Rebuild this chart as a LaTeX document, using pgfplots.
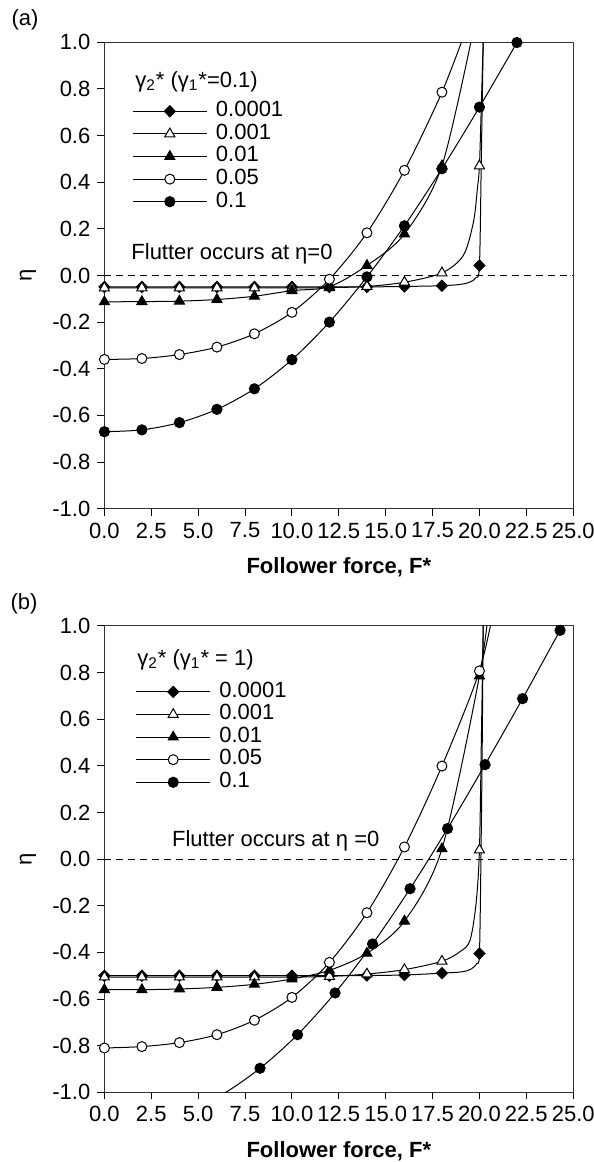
\documentclass[border=0pt]{standalone}
\usepackage{fontspec}
\setmainfont{Liberation Sans}
\usepackage{pgfplots}
\pgfplotsset{compat=1.18}

\newcommand{\fs}{\fontsize{11}{13.2}\selectfont}

\pgfplotsset{
  panel/.style={
    scale only axis, width=234.4pt, height=233.2pt,
    xmin=0, xmax=25, ymin=-1, ymax=1,
    xtick={0,2.5,5,7.5,10,12.5,15,17.5,20,22.5,25},
    xticklabels={0.0,2.5,5.0,7.5,10.0,12.5,15.0,17.5,20.0,22.5,25.0},
    ytick={-1,-0.8,-0.6,-0.4,-0.2,0,0.2,0.4,0.6,0.8,1},
    yticklabels={-1.0,-0.8,-0.6,-0.4,-0.2,0.0,0.2,0.4,0.6,0.8,1.0},
    tick align=outside, xtick pos=left, ytick pos=left,
    major tick length=3.5pt,
    tick style={black, line width=0.5pt},
    axis line style={black!80, line width=0.6pt},
    ticklabel style={font=\fs},
    label style={font=\fs},
    xlabel={\bfseries Follower force, F*},
    ylabel={η},
    xlabel style={at={(axis description cs:0.5,-0.1265)}, anchor=center},
    ylabel style={at={(axis description cs:-0.163,0.5)}, anchor=center},
    legend cell align=left,
    legend style={draw=none, fill=none, font=\fs, inner sep=0pt, outer sep=0pt,
      row sep=0.8pt,
      nodes={inner sep=0pt, text height=7.9pt, text depth=2.6pt}},
  },
  crv/.style={black, line width=0.5pt, smooth, no marks, forget plot},
  lgimg/.style={legend image code/.code={
      \draw[mark=none] (0pt,0pt) -- (37pt,0pt);
      \draw plot coordinates {(18.5pt,0pt)};}},
  mdia/.style={black, line width=0.5pt, only marks, mark=diamond*, mark size=2.8pt,
      mark options={xscale=1.3, fill=black, solid}, lgimg},
  mtro/.style={black, line width=0.5pt, only marks, mark=triangle*, mark size=2.9pt,
      mark options={fill=white, solid}, lgimg},
  mtrf/.style={black, line width=0.5pt, only marks, mark=triangle*, mark size=2.9pt,
      mark options={fill=black, solid}, lgimg},
  mcio/.style={black, line width=0.5pt, only marks, mark=*, mark size=2.5pt,
      mark options={fill=white, solid}, lgimg},
  mcif/.style={black, line width=0.5pt, only marks, mark=*, mark size=2.55pt,
      mark options={fill=black, solid}, lgimg},
}

\begin{document}
\begin{tikzpicture}[font=\fs]
\useasboundingbox (0,0) rectangle (297pt,581pt);

% ---------------- panel (a) ----------------
\begin{axis}[panel, at={(52.2pt,326.65pt)}, anchor=south west,
  legend style={at={(axis cs:1.49,0.749)}, anchor=north west}]
\addplot[forget plot, black, line width=0.5pt, dash pattern=on 3.5pt off 2.5pt] coordinates {(0,0) (25,0)};

% curves
\addplot[crv] table {
0 -0.049
2 -0.049
4 -0.049
6 -0.049
8 -0.049
10 -0.049
12 -0.049
14 -0.049
16 -0.047
18 -0.044
19 -0.038
19.5 -0.028
19.8 -0.01
20 0.043
20.1 0.5
20.2 1.0
20.25 1.3
};
\addplot[crv] table {
0 -0.053
2 -0.053
4 -0.053
6 -0.053
8 -0.053
10 -0.053
12 -0.052
14 -0.047
16 -0.029
18 0.011
19.14 0.086
19.68 0.229
19.89 0.372
20 0.47
20.1 0.73
20.2 1.0
20.25 1.15
};
\addplot[crv] table {
0 -0.113
2 -0.112
4 -0.110
6 -0.103
8 -0.089
10 -0.065
12 -0.048
14 0.043
16 0.178
18 0.47
19.8 1.1
};
\addplot[crv] table {
0 -0.36
2 -0.356
4 -0.339
6 -0.307
8 -0.25
10 -0.158
12 -0.016
14 0.183
16 0.451
18 0.786
19.5 1.1
};
\addplot[crv] table {
0 -0.67
2 -0.662
4 -0.631
6 -0.574
8 -0.486
10 -0.361
12 -0.2
14 -0.006
16 0.213
18 0.458
20 0.722
22 0.999
};

% markers
\addplot[mdia] table {
0 -0.049
2 -0.049
4 -0.049
6 -0.049
8 -0.049
10 -0.049
12 -0.049
14 -0.049
16 -0.047
18 -0.044
20 0.043
};
\addlegendentry{\hspace{4.3pt}0.0001}
\addplot[mtro] table {
0 -0.053
2 -0.053
4 -0.053
6 -0.053
8 -0.053
10 -0.053
12 -0.052
14 -0.047
16 -0.029
18 0.011
20 0.47
};
\addlegendentry{\hspace{4.3pt}0.001}
\addplot[mtrf] table {
0 -0.113
2 -0.112
4 -0.110
6 -0.103
8 -0.089
10 -0.065
12 -0.048
14 0.043
16 0.178
18 0.47
};
\addlegendentry{\hspace{4.3pt}0.01}
\addplot[mcio] table {
0 -0.36
2 -0.356
4 -0.339
6 -0.307
8 -0.25
10 -0.158
12 -0.016
14 0.183
16 0.451
18 0.786
};
\addlegendentry{\hspace{4.3pt}0.05}
\addplot[mcif] table {
0 -0.67
2 -0.662
4 -0.631
6 -0.574
8 -0.486
10 -0.361
12 -0.2
14 -0.006
16 0.213
18 0.458
20 0.722
22 0.999
};
\addlegendentry{\hspace{4.3pt}0.1}

\node[anchor=west, inner sep=0pt] at (axis cs:1.63,0.83) {γ\textsubscript{2}* (γ\textsubscript{1}*=0.1)};
\node[anchor=west, inner sep=0pt] at (axis cs:1.42,0.094) {Flutter occurs at η=0};
\end{axis}

% ---------------- panel (b) ----------------
\begin{axis}[panel, at={(52.2pt,34.85pt)}, anchor=south west,
  legend style={at={(axis cs:1.67,0.762)}, anchor=north west}]
\addplot[forget plot, black, line width=0.5pt, dash pattern=on 3.5pt off 2.5pt] coordinates {(0,0) (25,0)};

\addplot[crv] table {
0 -0.500
2 -0.500
4 -0.500
6 -0.500
8 -0.500
10 -0.500
12 -0.500
14 -0.499
16 -0.497
18 -0.489
19 -0.484
19.5 -0.474
19.86 -0.448
20 -0.405
20.08 0.0
20.15 0.5
20.2 1.0
20.25 1.3
};
\addplot[crv] table {
0 -0.506
2 -0.506
4 -0.506
6 -0.506
8 -0.506
10 -0.506
12 -0.503
14 -0.493
16 -0.474
18 -0.438
19 -0.395
19.5 -0.348
19.82 -0.19
20 0.039
20.1 0.5
20.2 1.0
20.25 1.25
};
\addplot[crv] table {
0 -0.560
2 -0.560
4 -0.557
6 -0.550
8 -0.537
10 -0.514
12 -0.477
14 -0.404
16 -0.266
18 0.044
20 0.785
20.6 1.15
};
\addplot[crv] table {
0 -0.810
2 -0.804
4 -0.787
6 -0.753
8 -0.691
10 -0.593
12 -0.443
14 -0.230
16 0.052
18 0.399
20 0.807
20.9 1.13
};
\addplot[crv] table {
4.3 -1.089
6.3 -1.009
8.3 -0.897
10.3 -0.753
12.3 -0.574
14.3 -0.364
16.3 -0.127
18.3 0.131
20.3 0.405
22.3 0.688
24.3 0.981
};

\addplot[mdia] table {
0 -0.500
2 -0.500
4 -0.500
6 -0.500
8 -0.500
10 -0.500
12 -0.500
14 -0.499
16 -0.497
18 -0.489
20 -0.405
};
\addlegendentry{\hspace{4.3pt}0.0001}
\addplot[mtro] table {
0 -0.506
2 -0.506
4 -0.506
6 -0.506
8 -0.506
10 -0.506
12 -0.503
14 -0.493
16 -0.474
18 -0.438
20 0.039
};
\addlegendentry{\hspace{4.3pt}0.001}
\addplot[mtrf] table {
0 -0.560
2 -0.560
4 -0.557
6 -0.550
8 -0.537
10 -0.514
12 -0.477
14 -0.404
16 -0.266
18 0.044
20 0.785
};
\addlegendentry{\hspace{4.3pt}0.01}
\addplot[mcio] table {
0 -0.810
2 -0.804
4 -0.787
6 -0.753
8 -0.691
10 -0.593
12 -0.443
14 -0.230
16 0.052
18 0.399
20 0.807
};
\addlegendentry{\hspace{4.3pt}0.05}
\addplot[mcif] table {
8.3 -0.897
10.3 -0.753
12.3 -0.574
14.3 -0.364
16.3 -0.127
18.3 0.131
20.3 0.405
22.3 0.688
24.3 0.981
};
\addlegendentry{\hspace{4.3pt}0.1}

\node[anchor=west, inner sep=0pt] at (axis cs:1.74,0.854) {γ\textsubscript{2}* (γ\textsubscript{1}* = 1)};
\node[anchor=west, inner sep=0pt] at (axis cs:3.59,0.08) {Flutter occurs at η =0};
\end{axis}

\node at (12.5pt,571pt) {(a)};
\node at (12pt,279pt) {(b)};
\end{tikzpicture}
\end{document}
